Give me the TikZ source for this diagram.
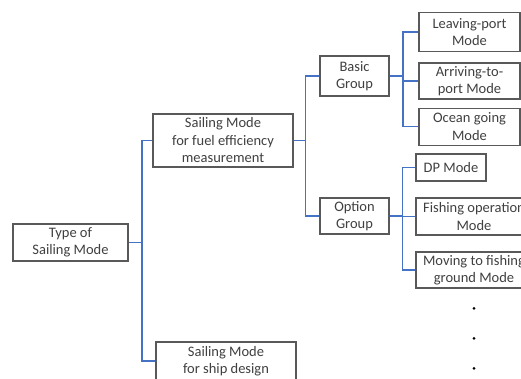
\documentclass[tikz,border=0pt]{standalone}
\usepackage{fontspec}
\setmainfont{Carlito}
\definecolor{boxline}{HTML}{595959}
\definecolor{boxtext}{HTML}{404040}
\definecolor{linkblue}{HTML}{4472C4}
\begin{document}
\begin{tikzpicture}[x=1pt,y=-1pt,
  modebox/.style={draw=boxline, line width=1.3pt, fill=white, text=boxtext,
    align=center, inner sep=0pt, font=\fontsize{14.5}{17.5}\selectfont},
  link/.style={draw=linkblue, line width=1.1pt},
  dot/.style={fill=black, circle, inner sep=0pt, minimum size=3pt}]
\useasboundingbox (0,0) rectangle (521,379);
\clip (0,0) rectangle (521,379);

% tree nodes
\node[modebox, minimum width=115pt, minimum height=37pt] (root) at (70.5,242.5) {Type of\\Sailing Mode};
\node[modebox, minimum width=140pt, minimum height=53pt] (fuel) at (223,140.5) {Sailing Mode\\for fuel efficiency\\measurement};
\node[modebox, minimum width=140pt, minimum height=38pt] (design) at (226,361) {Sailing Mode\\for ship design};
\node[modebox, minimum width=69pt, minimum height=40pt] (basic) at (354.5,76) {Basic\\Group};
\node[modebox, minimum width=69pt, minimum height=36pt] (option) at (354.5,216) {Option\\Group};
\node[modebox, minimum width=101pt, minimum height=39pt] (leave) at (469.5,32) {Leaving-port\\Mode};
\node[modebox, minimum width=101pt, minimum height=36pt] (arrive) at (469.5,81) {Arriving-to-\\port Mode};
\node[modebox, minimum width=101pt, minimum height=37pt] (ocean) at (469.5,126.7) {Ocean going\\Mode};
\node[modebox, minimum width=70pt, minimum height=27pt] (dp) at (451,167.5) {DP Mode};
\node[modebox, minimum width=116pt, minimum height=37pt] (fishing) at (474,216.5) {Fishing operation\\Mode};
\node[modebox, minimum width=116pt, minimum height=36pt] (moving) at (474,270) {Moving to fishing\\ground Mode};

% continuation dots
\node[dot] (d1) at (474,308.3) {};
\node[dot] (d2) at (474,338.3) {};
\node[dot] (d3) at (474,368.3) {};

% bus positions of the elbow connectors
\coordinate (busA) at (142,0);
\coordinate (busB) at (305.7,0);
\coordinate (busC) at (403,0);
\coordinate (busD) at (402.5,0);

% connectors
\draw[link] (root.east) -- (root.east -| busA) |- (fuel.west);
\draw[link] (root.east -| busA) |- (design.west);
\draw[link] (fuel.east) -- (fuel.east -| busB) |- (basic.west);
\draw[link] (fuel.east -| busB) |- (option.west);
\draw[link] (basic.east) -- (basic.east -| busC) |- (leave.west);
\draw[link] (basic.east -| busC) |- (arrive.west);
\draw[link] (basic.east -| busC) |- (ocean.west);
\draw[link] (option.east) -- (option.east -| busD) |- (dp.west);
\draw[link] (option.east -| busD) |- (fishing.west);
\draw[link] (option.east -| busD) |- (moving.west);
\end{tikzpicture}
\end{document}
